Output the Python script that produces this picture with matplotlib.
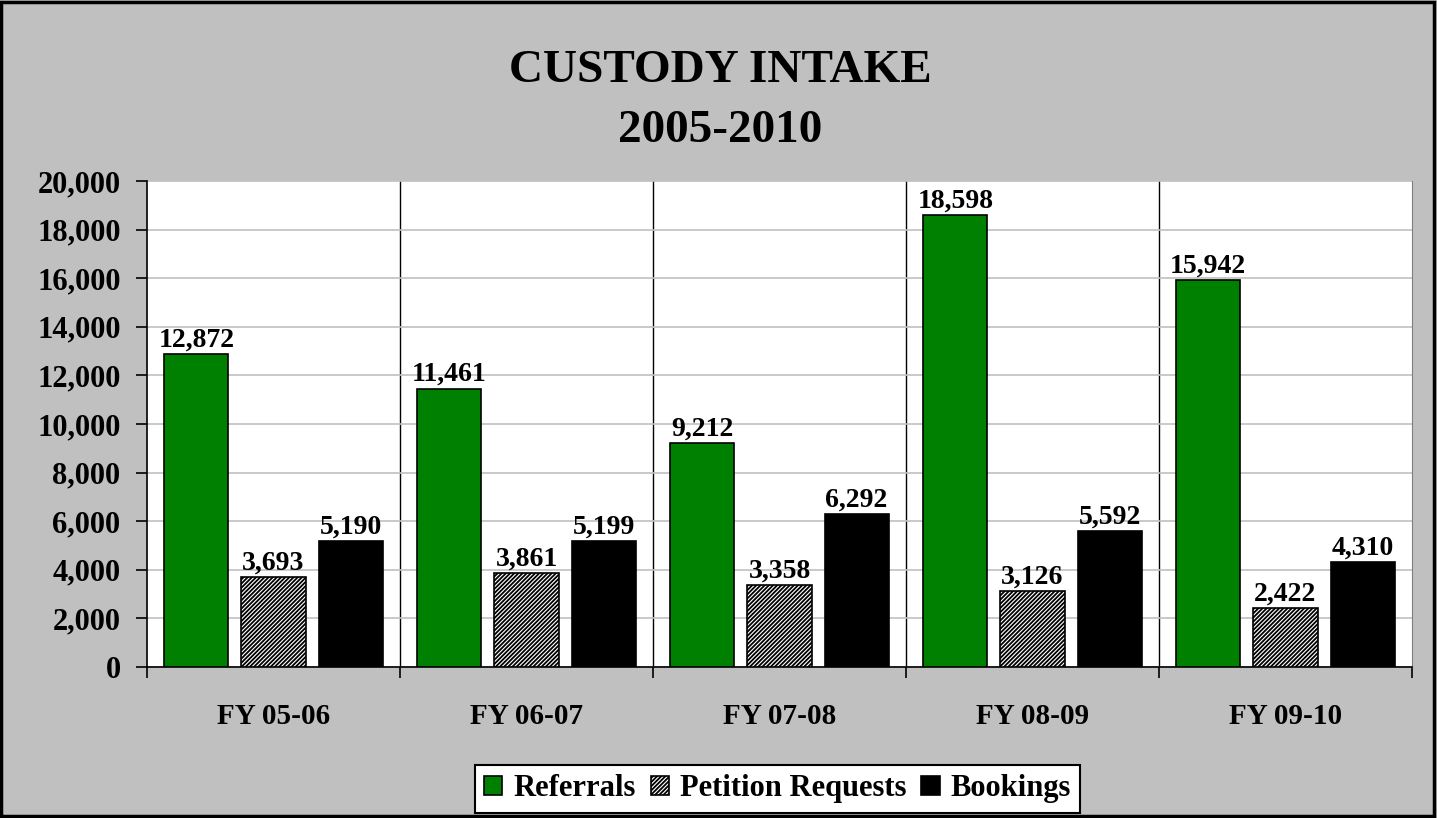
import numpy as np
import matplotlib.pyplot as plt
from matplotlib.patches import Rectangle
from matplotlib.ticker import FuncFormatter, MultipleLocator

plt.rcParams['font.family'] = ['Liberation Serif', 'DejaVu Serif']
plt.rcParams['font.weight'] = 'bold'
plt.rcParams['hatch.linewidth'] = 1.3

years = ["FY 05-06", "FY 06-07", "FY 07-08", "FY 08-09", "FY 09-10"]
referrals = [12872, 11461, 9212, 18598, 15942]
petitions = [3693, 3861, 3358, 3126, 2422]
bookings = [5190, 5199, 6292, 5592, 4310]

fig = plt.figure(figsize=(14.37, 8.18), dpi=100)
fig.patch.set_facecolor('#C0C0C0')
# black frame round the whole chart
fig.patches.append(Rectangle((0.001, 0.002), 0.997, 0.996, transform=fig.transFigure,
                             fill=False, edgecolor='black', linewidth=2.5))

ax = fig.add_axes([0.1023, 0.1846, 0.8803, 0.5941])
ax.set_facecolor('white')

x = np.arange(len(years))
w = 0.253
off = 0.305
b1 = ax.bar(x - off, referrals, w, color='#008000', edgecolor='black', linewidth=1.2,
            label='Referrals', zorder=3)
b2 = ax.bar(x, petitions, w, color='white', edgecolor='black', linewidth=1.2,
            hatch='////////', label='Petition Requests', zorder=3)
b3 = ax.bar(x + off, bookings, w, color='black', edgecolor='black', linewidth=1.2,
            label='Bookings', zorder=3)

for bars, vals in [(b1, referrals), (b2, petitions), (b3, bookings)]:
    for r, v in zip(bars, vals):
        ax.annotate(f"{v:,}", (r.get_x() + r.get_width() / 2, v), xytext=(0, 1),
                    textcoords='offset points', ha='center', va='bottom',
                    fontsize=20, fontweight='bold')

ax.set_xlim(-0.5, len(years) - 0.5)
ax.set_ylim(0, 20000)
ax.yaxis.set_major_locator(MultipleLocator(2000))
ax.yaxis.set_major_formatter(FuncFormatter(lambda v, p: f"{int(v):,}"))
ax.grid(axis='y', color='#C0C0C0', linewidth=1.2, zorder=0)
for b in np.arange(0.5, len(years) - 0.5):
    ax.axvline(b, color='black', linewidth=1.0, zorder=1)

ax.set_xticks(np.arange(-0.5, len(years)))
ax.set_xticklabels([])
ax.set_xticks(x, minor=True)
ax.set_xticklabels(years, minor=True)
ax.tick_params(axis='x', which='major', direction='out', length=8, width=1.2)
ax.tick_params(axis='x', which='minor', length=0, pad=26, labelsize=21)
ax.tick_params(axis='y', direction='out', length=8, width=1.2, labelsize=22, pad=11)

ax.spines['left'].set_linewidth(1.2)
ax.spines['bottom'].set_linewidth(1.2)
ax.spines['top'].set_visible(False)
ax.spines['right'].set_color('#808080')

fig.text(0.501, 0.913, "CUSTODY INTAKE", ha='center', va='center', fontsize=34, fontweight='bold')
fig.text(0.501, 0.840, "2005-2010", ha='center', va='center', fontsize=34, fontweight='bold')

leg = fig.legend(handles=[b1, b2, b3], loc='center', bbox_to_anchor=(0.541, 0.0355), ncol=3,
                 frameon=True, fancybox=False, fontsize=22, handlelength=0.6, handleheight=0.6,
                 handletextpad=0.35, columnspacing=0.5, borderpad=0.3, borderaxespad=0)
leg.get_frame().set_edgecolor('black')
leg.get_frame().set_linewidth(1.5)
leg.get_frame().set_facecolor('white')
leg.get_frame().set_alpha(1)

fig.savefig('out.png', dpi=100, facecolor=fig.get_facecolor())
